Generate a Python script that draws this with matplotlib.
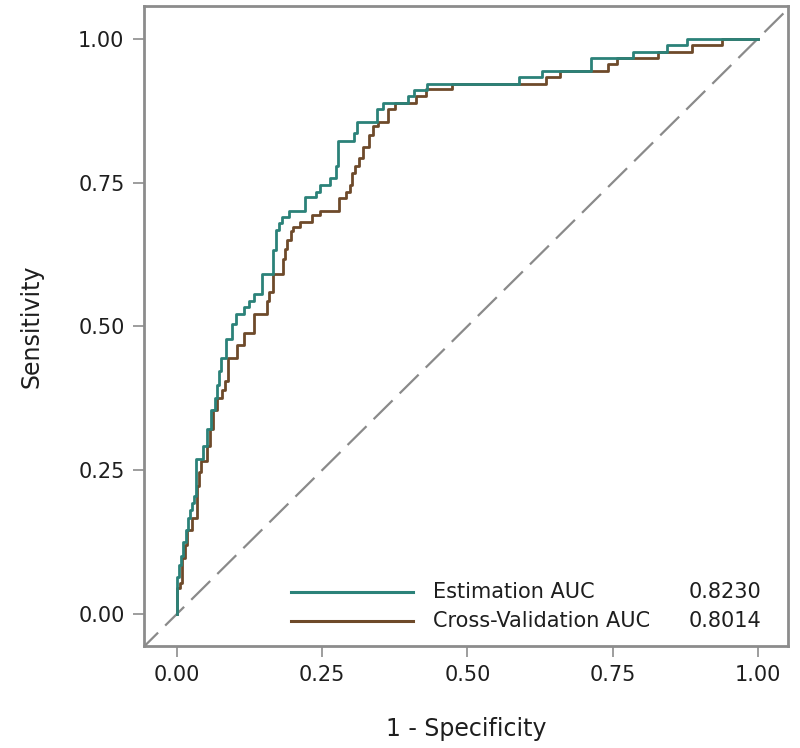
import matplotlib
matplotlib.use("Agg")
import matplotlib.pyplot as plt
from matplotlib.lines import Line2D

# ROC step points (1 - specificity, sensitivity)
est_fpr = [0, 0, 0.003, 0.007, 0.011, 0.015, 0.018, 0.022, 0.025, 0.029, 0.033, 0.044,
           0.052, 0.059, 0.065, 0.069, 0.072, 0.076, 0.085, 0.094, 0.101, 0.116, 0.123,
           0.132, 0.146, 0.166, 0.170, 0.176, 0.181, 0.192, 0.220, 0.239, 0.246, 0.264,
           0.274, 0.277, 0.304, 0.310, 0.345, 0.355, 0.397, 0.408, 0.430, 0.589, 0.629,
           0.712, 0.785, 0.843, 0.878, 1.0]
est_tpr = [0, 0.064, 0.085, 0.100, 0.125, 0.145, 0.167, 0.180, 0.192, 0.204, 0.270, 0.292,
           0.321, 0.354, 0.375, 0.397, 0.423, 0.444, 0.478, 0.504, 0.522, 0.533, 0.544,
           0.556, 0.591, 0.632, 0.667, 0.679, 0.690, 0.700, 0.724, 0.734, 0.745, 0.757,
           0.778, 0.823, 0.836, 0.855, 0.877, 0.889, 0.900, 0.911, 0.922, 0.934, 0.944,
           0.966, 0.977, 0.989, 1.0, 1.0]

cv_fpr = [0, 0, 0.005, 0.009, 0.013, 0.017, 0.026, 0.034, 0.038, 0.041, 0.052, 0.057,
          0.062, 0.069, 0.078, 0.083, 0.088, 0.104, 0.116, 0.133, 0.154, 0.159, 0.166,
          0.183, 0.186, 0.190, 0.196, 0.200, 0.212, 0.233, 0.246, 0.278, 0.291, 0.298,
          0.302, 0.307, 0.313, 0.320, 0.331, 0.337, 0.346, 0.364, 0.375, 0.411, 0.429,
          0.473, 0.635, 0.659, 0.742, 0.758, 0.828, 0.886, 0.939, 1.0]
cv_tpr = [0, 0.044, 0.053, 0.097, 0.120, 0.145, 0.166, 0.222, 0.247, 0.266, 0.291, 0.321,
          0.354, 0.376, 0.390, 0.405, 0.445, 0.467, 0.489, 0.522, 0.544, 0.560, 0.591,
          0.617, 0.635, 0.650, 0.666, 0.672, 0.681, 0.693, 0.701, 0.723, 0.734, 0.745,
          0.767, 0.778, 0.793, 0.811, 0.833, 0.848, 0.855, 0.877, 0.889, 0.900, 0.912,
          0.922, 0.934, 0.944, 0.956, 0.966, 0.977, 0.989, 1.0, 1.0]

legend_labels = ["Estimation AUC", "Cross-Validation AUC"]
auc_values = ["0.8230", "0.8014"]
ticks = [0.0, 0.25, 0.5, 0.75, 1.0]
tick_labels = ["0.00", "0.25", "0.50", "0.75", "1.00"]

teal = "#2b8279"
brown = "#6e4a2a"
frame = "#8c8c8c"
txt = "#1e1e1e"

fig = plt.figure(figsize=(8, 7.48), dpi=100)
ax = fig.add_axes([0.18, 0.1364, 0.805, 0.8556])

ax.plot([-0.2, 1.2], [-0.2, 1.2], color="#8a8a8a", lw=1.6, dashes=(12, 4.5), zorder=1)
ax.plot(est_fpr, est_tpr, drawstyle="steps-post", color=teal, lw=2.0, zorder=3)
ax.plot(cv_fpr, cv_tpr, drawstyle="steps-post", color=brown, lw=2.0, zorder=2)

ax.set_xlim(-0.057, 1.052)
ax.set_ylim(-0.056, 1.057)
ax.set_xticks(ticks)
ax.set_xticklabels(tick_labels)
ax.set_yticks(ticks)
ax.set_yticklabels(tick_labels)
ax.tick_params(axis="both", direction="out", length=8, width=1.2, color=frame,
               labelsize=15, labelcolor=txt, pad=6)
for s in ax.spines.values():
    s.set_color(frame)
    s.set_linewidth(2)

ax.set_xlabel("1 - Specificity", fontsize=17, color=txt, labelpad=23)
ax.set_ylabel("Sensitivity", fontsize=17, color=txt, labelpad=25)

# legend (manual, inside bottom-right)
colors = [teal, brown]
rows_y = [0.038, -0.013]
for lab, val, c, yy in zip(legend_labels, auc_values, colors, rows_y):
    ax.add_line(Line2D([0.196, 0.406], [yy, yy], color=c, lw=2.2, clip_on=False))
    ax.text(0.440, yy, lab, fontsize=15, color=txt, va="center", ha="left")
    ax.text(1.007, yy, val, fontsize=15, color=txt, va="center", ha="right")

fig.savefig("out.png", dpi=100)
